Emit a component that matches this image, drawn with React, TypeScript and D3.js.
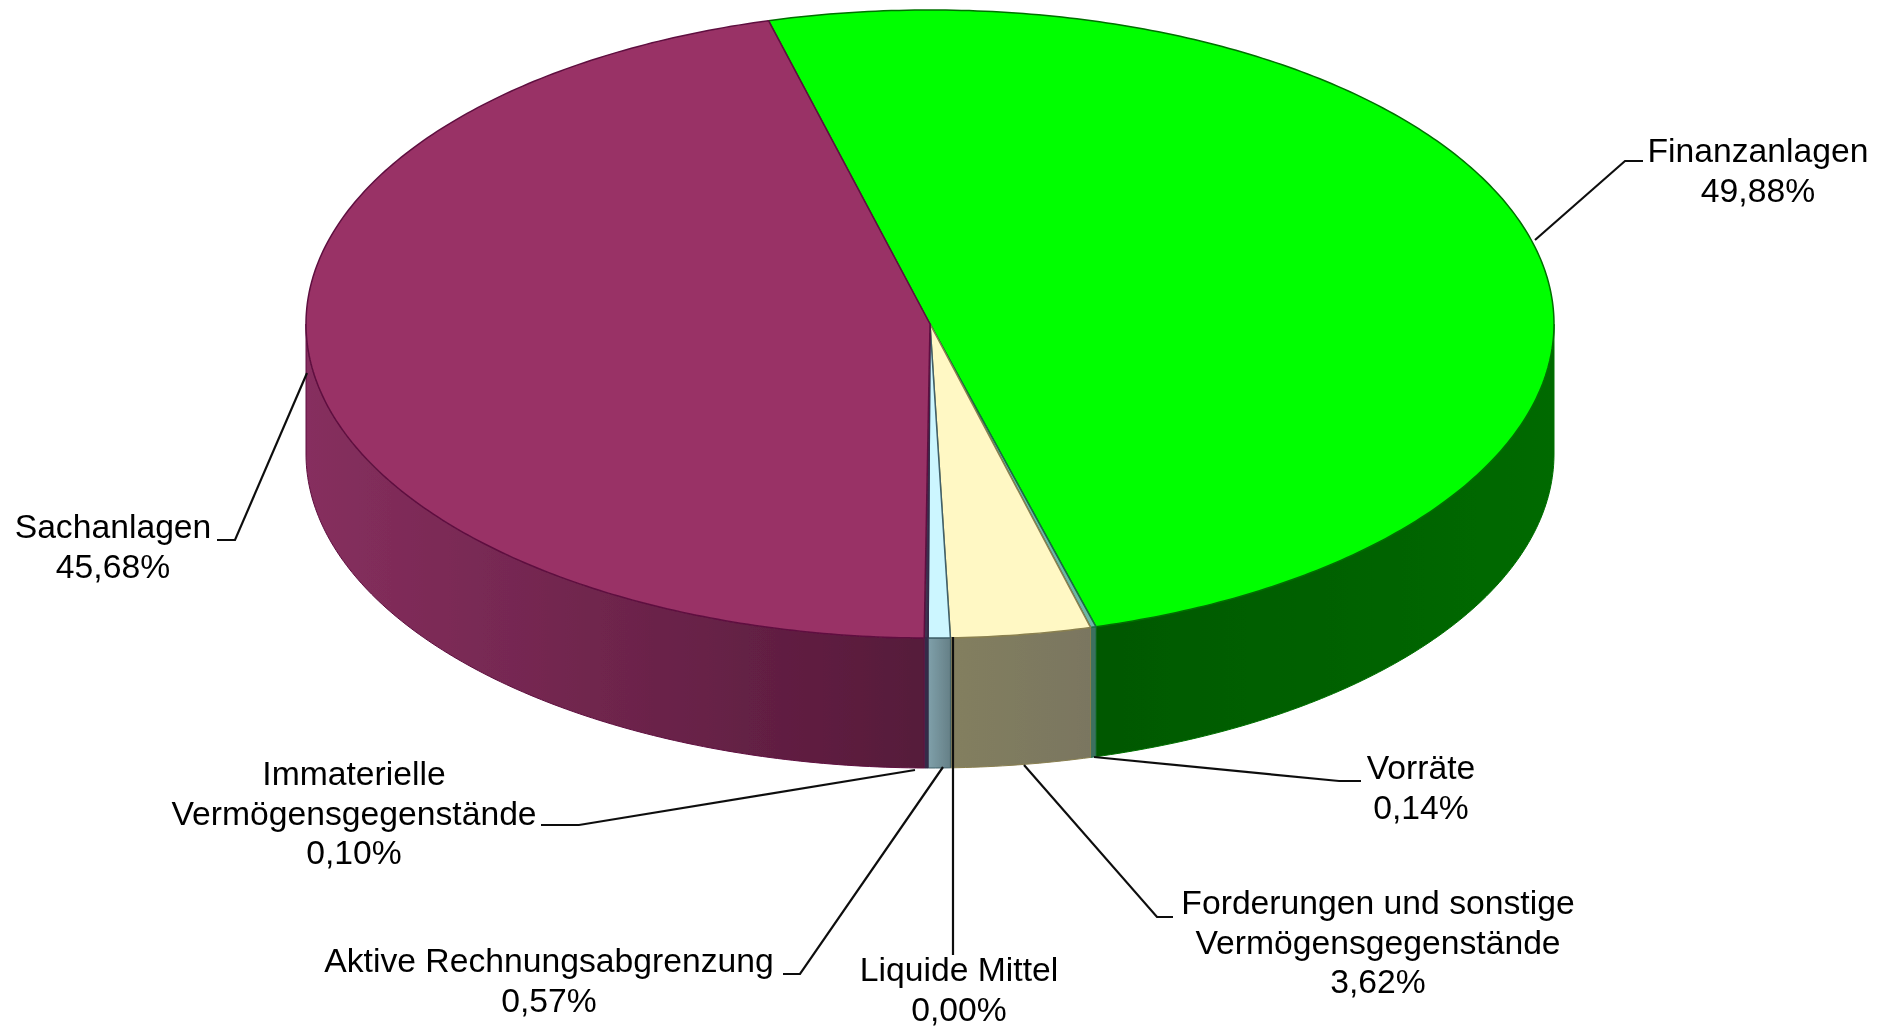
import React from "react";
import * as d3 from "d3";

const categories = ["Finanzanlagen", "Vorräte", "Forderungen und sonstige Vermögensgegenstände", "Liquide Mittel", "Aktive Rechnungsabgrenzung", "Immaterielle Vermögensgegenstände", "Sachanlagen"];
const shares = [49.88, 0.14, 3.62, 0.0, 0.57, 0.1, 45.68];
const shareLabels = ["49,88%", "0,14%", "3,62%", "0,00%", "0,57%", "0,10%", "45,68%"];
const topColors = ["#00ff00", "#6fb5a8", "#fff8c4", "#ffffff", "#ccf6ff", "#3f3050", "#993366"];
const edgeColors = ["#007000", "#1d6b45", "#8a8050", "#555555", "#40606a", "#352a48", "#5f1040"];
const wallFrom = ["#006a00", "#3e7060", "#837f5f", "#777777", "#7fa0aa", "#352a48", "#862f5e"];
const wallTo = ["#005800", "#3e7060", "#7a7660", "#777777", "#668087", "#352a48", "#561a3a"];

const labelLines: string[][] = [["Finanzanlagen"], ["Vorräte"], ["Forderungen und sonstige", "Vermögensgegenstände"], ["Liquide Mittel"], ["Aktive Rechnungsabgrenzung"], ["Immaterielle", "Vermögensgegenstände"], ["Sachanlagen"]];
const labelAnchor: [number, number][] = [[1758, 162], [1421, 779], [1378, 914], [959, 981], [549, 972], [354, 785], [113, 538]];
const labelStep = [40, 40, 39.5, 40, 40, 39.5, 40];
const leaders: [number, number][][] = [
  [[1535, 240], [1625, 161], [1643, 161]],
  [[1094, 757], [1339, 781], [1361, 781]],
  [[1024, 765], [1157, 917], [1173, 917]],
  [[953, 637], [953, 955]],
  [[943, 767], [800, 974], [783, 974]],
  [[915, 770], [579, 825], [541, 825]],
  [[307, 373], [235, 540], [217, 540]],
];

const cx = 930, cy = 324, rx = 624, ry = 314, depth = 130;
const start = (-15 * Math.PI) / 180;

const px = d3.scaleLinear().domain([-1, 1]).range([cx - rx, cx + rx]);
const py = d3.scaleLinear().domain([-1, 1]).range([cy - ry, cy + ry]);
const pts = (a0: number, a1: number, dy = 0): [number, number][] => {
  const n = Math.max(2, Math.ceil(Math.abs(a1 - a0) * 80));
  return d3.range(n + 1).map((i) => {
    const a = a0 + ((a1 - a0) * i) / n;
    return [px(Math.sin(a)), py(-Math.cos(a)) + dy] as [number, number];
  });
};
const line = d3.line();
const frontFrom = (a: number) => Math.max(a, Math.PI / 2);
const frontTo = (a: number) => Math.min(a, (3 * Math.PI) / 2);

export default function App() {
  const arcs = d3.pie<number>().sort(null).startAngle(start).endAngle(start + 2 * Math.PI)(shares);
  const visible = arcs.filter((d) => d.endAngle > d.startAngle);
  return (
    <svg width={1896} height={1029} style={{ position: "absolute", left: 0, top: 0, background: "#fff" }} fontFamily="'Liberation Sans', Arial, sans-serif">
      <defs>
        {visible.map((d) => (
          <linearGradient key={d.index} id={`w${d.index}`} gradientUnits="userSpaceOnUse"
            x1={Math.min(px(Math.sin(frontFrom(d.startAngle))), px(Math.sin(frontTo(d.endAngle))))}
            x2={Math.max(px(Math.sin(frontFrom(d.startAngle))), px(Math.sin(frontTo(d.endAngle))))} y1={0} y2={0}>
            <stop offset="0" stopColor={d.index === 0 ? wallTo[0] : wallFrom[d.index]} />
            <stop offset="1" stopColor={d.index === 0 ? wallFrom[0] : wallTo[d.index]} />
          </linearGradient>
        ))}
        <filter id="soft" x="0" y="0" width="100%" height="100%" filterUnits="objectBoundingBox">
          <feGaussianBlur stdDeviation="0.55" />
        </filter>
      </defs>
      <g filter="url(#soft)">
        <rect width={1896} height={1029} fill="#fff" />
        {visible.map((d) => {
          const a0 = frontFrom(d.startAngle);
          const a1 = frontTo(d.endAngle);
          if (a1 <= a0) return null;
          const p = [...pts(a0, a1), ...pts(a1, a0, depth)];
          return <path key={d.index} d={line(p) + "Z"} fill={`url(#w${d.index})`} stroke={edgeColors[d.index]} strokeWidth={1} />;
        })}
        {visible.map((d) => {
          const p: [number, number][] = [[cx, cy], ...pts(d.startAngle, d.endAngle)];
          return <path key={d.index} d={line(p) + "Z"} fill={topColors[d.index]} stroke={edgeColors[d.index]} strokeWidth={1.5} strokeLinejoin="round" />;
        })}
        {leaders.map((l, i) => (
          <path key={i} d={line(l) ?? ""} fill="none" stroke="#111" strokeWidth={2.2} />
        ))}
        {categories.map((c, i) => {
          const lines = [...labelLines[i], shareLabels[i]];
          return (
            <text key={c} textAnchor="middle" fontSize={33.7} fill="#000">
              {lines.map((t, j) => (
                <tspan key={j} x={labelAnchor[i][0]} y={labelAnchor[i][1] + j * labelStep[i]}>{t}</tspan>
              ))}
            </text>
          );
        })}
      </g>
    </svg>
  );
}
